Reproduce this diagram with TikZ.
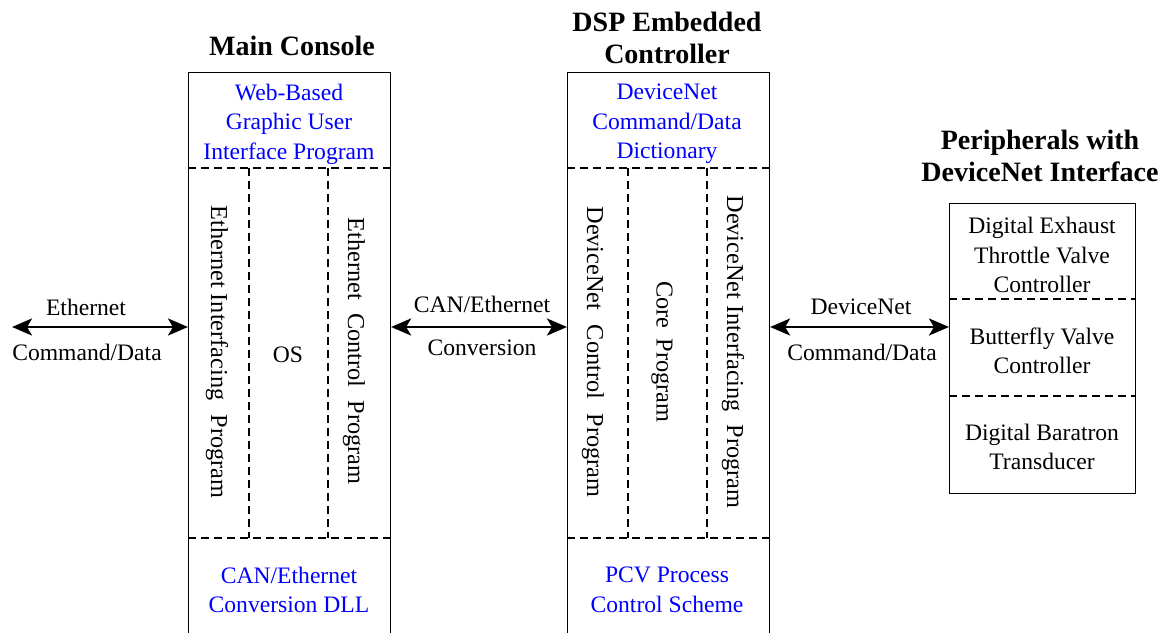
\documentclass[tikz,border=0pt]{standalone}
\usepackage{fontspec}
\setmainfont{Liberation Serif}
\usetikzlibrary{arrows.meta}
\begin{document}
\begin{tikzpicture}[x=1pt,y=-1pt,
  txt/.style={font=\fontsize{23.6}{29.5}\selectfont, align=center, inner sep=0pt},
  btxt/.style={txt, text=blue},
  ttl/.style={font=\fontsize{28}{32}\selectfont\bfseries, align=center, inner sep=0pt},
  vtxt/.style={font=\fontsize{24.3}{29.5}\selectfont, inner sep=0pt, rotate=-90},
  frame/.style={draw, line width=1.1pt, inner sep=0pt},
  sep/.style={line width=1.8pt, dash pattern=on 8pt off 5pt},
  link/.style={line width=2.8pt, {Stealth[length=20pt,width=17pt,inset=5pt]}-{Stealth[length=20pt,width=17pt,inset=5pt]}}]
\useasboundingbox (0,0) rectangle (1162,632);
\clip (0,0) rectangle (1162,632);

% boxes
\node[frame, minimum width=202pt, minimum height=580pt, anchor=north west] (main) at (188,72) {};
\node[frame, minimum width=202pt, minimum height=580pt, anchor=north west] (dsp) at (567,72) {};
\node[frame, minimum width=186pt, minimum height=290pt, anchor=north west] (per) at (949,203) {};

% separators
\draw[sep] (188,168) -- (390,168);
\draw[sep] (188,538) -- (390,538);
\draw[sep] (249,168) -- (249,538);
\draw[sep] (328,168) -- (328,538);
\draw[sep] (567,168) -- (769,168);
\draw[sep] (567,538) -- (769,538);
\draw[sep] (628,168) -- (628,538);
\draw[sep] (707,168) -- (707,538);
\draw[sep] (949,299) -- (1135,299);
\draw[sep] (949,396) -- (1135,396);

% titles (base = baseline of last line)
\node[ttl, anchor=base] (tmain) at (292,55) {Main Console};
\node[ttl, anchor=base] (tdsp) at (667,63) {DSP Embedded\\Controller};
\node[ttl, anchor=base] (tper) at (1040,181) {Peripherals with\\DeviceNet Interface};

% main console texts
\node[btxt] (gui) at (289,124) {Web-Based\\Graphic User\\Interface Program};
\node[btxt] (dll) at (289,590) {CAN/Ethernet\\Conversion DLL};
\node[vtxt] (eip) at (217,352) {\makebox[293pt][s]{Ethernet\hspace{6pt}Interfacing Program}};
\node[txt] (os) at (288,355) {OS};
\node[vtxt] (ecp) at (354,351) {\makebox[267pt][s]{Ethernet Control Program}};

% DSP texts
\node[btxt] (dict) at (667,124) {DeviceNet\\Command/Data\\Dictionary};
\node[btxt] (pcv) at (667,590) {PCV Process\\Control Scheme};
\node[vtxt] (dcp) at (593,352) {\makebox[291pt][s]{DeviceNet Control Program}};
\node[vtxt] (core) at (662,352) {\makebox[141pt][s]{Core Program}};
\node[vtxt] (dip) at (733,352) {\makebox[313pt][s]{DeviceNet\hspace{6pt}Interfacing Program}};

% peripherals texts
\node[txt] (dev1) at (1042,255) {Digital Exhaust\\Throttle Valve\\Controller};
\node[txt] (dev2) at (1042,351) {Butterfly Valve\\Controller};
\node[txt] (dev3) at (1042,447) {Digital Baratron\\Transducer};

% connectors
\coordinate (ethend) at (12,327);
\draw[link] (ethend) -- (ethend -| main.west);
\draw[link] (main.east |- ethend) -- (dsp.west |- ethend);
\draw[link] (dsp.east |- ethend) -- (per.west |- ethend);

% connector labels
\node[txt] (l1a) at (86,307) {Ethernet};
\node[txt] (l1b) at (87,352) {Command/Data};
\node[txt] (l2a) at (482,304) {CAN/Ethernet};
\node[txt] (l2b) at (482,348) {Conversion};
\node[txt] (l3a) at (861,307) {DeviceNet};
\node[txt] (l3b) at (862,352) {Command/Data};
\end{tikzpicture}
\end{document}
